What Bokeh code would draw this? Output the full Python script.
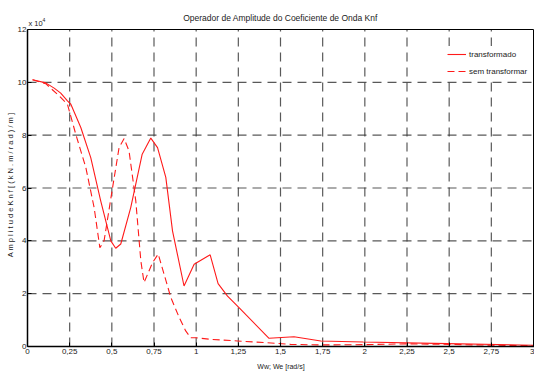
from bokeh.plotting import figure
from bokeh.models import (Range1d, FixedTicker, CustomJSTickFormatter, Legend,
                          LegendItem)
from bokeh.core.properties import value
from bokeh.embed import file_html
from bokeh.resources import INLINE

# Frequency axis (rad/s) and amplitude of Knf, in units of 10^4 (kN.m/rad)/m
w_transformado = [0.03, 0.108, 0.158, 0.197, 0.237, 0.257, 0.316, 0.375, 0.434,
                  0.494, 0.523, 0.553, 0.612, 0.68, 0.731, 0.771, 0.82, 0.86,
                  0.928, 0.988, 1.083, 1.13, 1.186, 1.254, 1.432, 1.58, 1.739,
                  1.99, 2.49, 3.0]
knf_transformado = [10.1, 9.98, 9.78, 9.59, 9.3, 9.17, 8.29, 7.15, 5.51,
                    4.0, 3.72, 3.88, 5.26, 7.28, 7.89, 7.53, 6.4, 4.37,
                    2.29, 3.11, 3.47, 2.38, 1.91, 1.47, 0.31, 0.37, 0.21,
                    0.17, 0.11, 0.05]

w_sem = [0.03, 0.108, 0.187, 0.237, 0.286, 0.346, 0.395, 0.429, 0.454, 0.504,
         0.543, 0.573, 0.602, 0.642, 0.672, 0.691, 0.741, 0.775, 0.81, 0.85,
         0.9, 0.938, 0.968, 1.0, 1.087, 1.245, 1.4, 1.56, 1.74, 2.0, 2.25,
         2.5, 2.75, 3.0]
knf_sem = [10.1, 9.95, 9.49, 9.17, 8.04, 6.77, 5.26, 3.74, 4.0, 6.0,
           7.53, 7.87, 7.4, 5.51, 3.24, 2.42, 3.17, 3.5, 2.73, 1.85,
           1.09, 0.59, 0.33, 0.33, 0.27, 0.21, 0.15, 0.08, 0.06, 0.07, 0.1,
           0.08, 0.05, 0.03]

x_ticks = [0, 0.25, 0.5, 0.75, 1, 1.25, 1.5, 1.75, 2, 2.25, 2.5, 2.75, 3]
y_ticks = [0, 2, 4, 6, 8, 10, 12]

title_text = "Operador de Amplitude do Coeficiente de Onda Knf"
scale_text = "x 10"
scale_exp = "4"
x_label = "Ww; We [rad/s]"
y_label = "A m p l i t u d e  K n f  [ ( k N . m / r a d ) / m ]"

FONT = "Liberation Sans"
TEXT = "#222222"
RED = "#ff1a1a"
GRID = "#3c3c3c"

# Layout: the frame reaches up to the top of the canvas so that the title and
# the scale note can be drawn inside it; the axes box itself ends at y = 12.
W, H = 534, 372
BORDER_TOP, BORDER_BOTTOM, BORDER_LEFT = 2, 26, 27
BOX_TOP_PX = 29                      # canvas row of y = 12
frame_h = H - BORDER_TOP - BORDER_BOTTOM
box_h = H - BORDER_BOTTOM - BOX_TOP_PX
y_min, y_max = y_ticks[0], y_ticks[-1]
x_min, x_max = x_ticks[0], x_ticks[-1]
y_top = y_max * frame_h / box_h
frame_w = W - BORDER_LEFT
x_end = x_max * frame_w / (frame_w - 1)

p = figure(width=W, height=H, output_backend="svg", toolbar_location=None,
           x_range=Range1d(x_min, x_end), y_range=Range1d(y_min, y_top),
           min_border_left=BORDER_LEFT, min_border_right=0,
           min_border_top=BORDER_TOP, min_border_bottom=BORDER_BOTTOM)
p.outline_line_color = None
p.xgrid.visible = False
p.ygrid.visible = False

# Dashed grid, limited to the axes box
inner_x = x_ticks[1:-1]
p.segment(x0=inner_x, y0=[y_min] * len(inner_x), x1=inner_x,
          y1=[y_max] * len(inner_x), line_color=GRID, line_width=1.2,
          line_alpha=0.85, line_dash="9 6")
grid_y = y_ticks[1:]
p.segment(x0=[x_min] * len(grid_y), y0=grid_y, x1=[x_max] * len(grid_y),
          y1=grid_y, line_color=GRID, line_width=1.2, line_alpha=0.85,
          line_dash="9 6")

# Top and right edges of the box
p.segment(x0=[x_min, x_max], y0=[y_max, y_min], x1=[x_max, x_max],
          y1=[y_max, y_max], line_color="black", line_width=1)

xa = p.xaxis[0]
xa.ticker = FixedTicker(ticks=x_ticks)
xa.formatter = CustomJSTickFormatter(code="return String(tick).replace('.', ',');")
xa.axis_label = x_label
xa.axis_label_standoff = 6
xa.major_label_standoff = 2

# The axis label is centred on the whole frame; trailing no-break spaces move
# it down to the middle of the 0-12 box.
ya = p.yaxis[0]
ya.ticker = FixedTicker(ticks=y_ticks)
ya.bounds = (y_min, y_max)
ya.axis_label = y_label + "\u00a0" * 8
ya.axis_label_standoff = 0
ya.major_label_standoff = 1

for ax in (xa, ya):
    ax.axis_line_color = "black"
    ax.axis_line_width = 1.5
    ax.major_tick_in = 4
    ax.major_tick_out = 0
    ax.major_tick_line_color = "black"
    ax.minor_tick_line_color = None
    ax.major_label_text_font = FONT
    ax.major_label_text_font_size = "8px"
    ax.major_label_text_color = TEXT
    ax.axis_label_text_font = FONT
    ax.axis_label_text_font_style = "normal"
    ax.axis_label_text_color = TEXT
xa.axis_label_text_font_size = "7px"
ya.axis_label_text_font_size = "7.5px"

r_tr = p.line(w_transformado, knf_transformado, line_color=RED, line_width=1.1)
r_sem = p.line(w_sem, knf_sem, line_color=RED, line_width=1.1, line_dash="7 4")

# Title and the x 10^4 scale note above the box
p.text(x=[(x_min + x_max) / 2], y=[y_max], text=[title_text], y_offset=-12,
       text_align="center", text_baseline="middle", text_font=value(FONT),
       text_font_size="8.5px", text_color=TEXT)
p.text(x=[x_min], y=[y_max], text=[scale_text], y_offset=-6, x_offset=1,
       text_align="left", text_baseline="alphabetic", text_font=value(FONT),
       text_font_size="7.5px", text_color=TEXT)
p.text(x=[x_min], y=[y_max], text=[scale_exp], y_offset=-10, x_offset=15,
       text_align="left", text_baseline="alphabetic", text_font=value(FONT),
       text_font_size="5px", text_color=TEXT)

legend = Legend(items=[LegendItem(label="transformado", renderers=[r_tr]),
                       LegendItem(label="sem transformar", renderers=[r_sem])],
                location=(418, 267), padding=2, margin=0, spacing=5,
                glyph_width=19, glyph_height=12, label_height=12,
                label_standoff=3, border_line_alpha=0,
                background_fill_color="white", background_fill_alpha=1,
                label_text_font=FONT, label_text_font_size="8px",
                label_text_color=TEXT)
p.add_layout(legend)

open("out.html", "w").write(file_html(p, INLINE))
